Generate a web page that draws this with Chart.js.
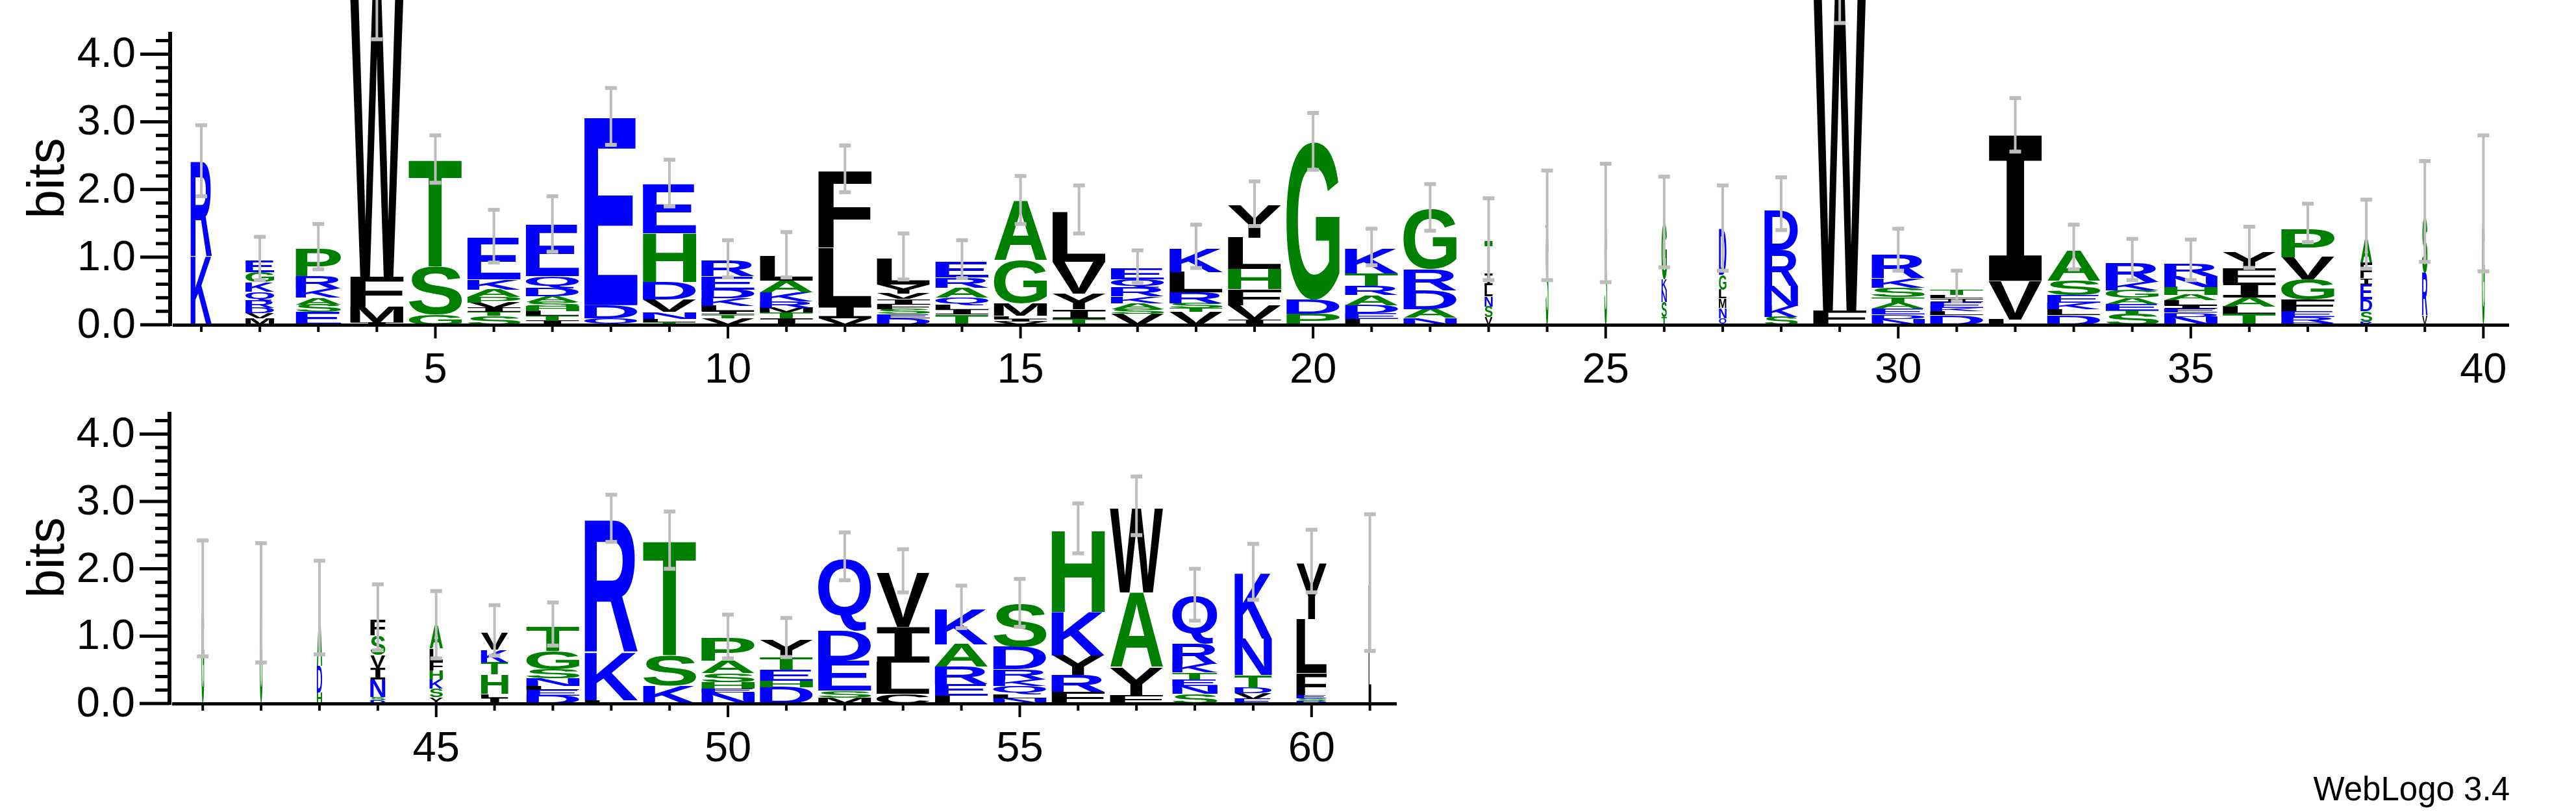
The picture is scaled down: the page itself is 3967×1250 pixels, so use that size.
<!DOCTYPE html>
<html><head><meta charset="utf-8">
<script src="https://cdn.jsdelivr.net/npm/chart.js@4.4.1/dist/chart.umd.min.js"></script>
<style>
html,body{margin:0;padding:0;background:#fff;width:3967px;height:1250px;overflow:hidden;}
canvas{position:absolute;left:0;}
#credit{position:absolute;right:102px;top:1185px;font:51px "Liberation Sans",Arial,sans-serif;color:#000;}
</style></head><body>
<canvas id="c1" width="3967" height="620" style="top:0"></canvas>
<canvas id="c2" width="3967" height="670" style="top:580px"></canvas>
<div id="credit">WebLogo 3.4</div>
<script>
// ---- Panel 1 (positions 1-40) ----
const positions1 = Array.from({length:40},(_,i)=>i+1);
const seqs1 = ["KR","MVDRQKGE","ESAKRP","IMFW","GST","STIVPAKE","ITLHSADQE","QDE","TLNVDHE","VTILKDER",
 "ITMRKAL","VILF","DESFIVYL","TILQARE","VILMGA","TIYVL","VSAKRQE","VTSRLK","IVFHLY","PDG",
 "LEDARTK","NADRG","VSNLIT","SK","S","TSNKG","QNMLGD","SKNRD","FW","NDEATSKR",
 "DLKEILT","LVI","DLKESA","STEAGKR","NDEILAHNR","TLAIFY","DREFGVP","RSDEIFA","VRS","G"];
const heights1 = [
 [1.01,1.40],[.095,.075,.08,.11,.13,.14,.15,.17],[.19,.11,.10,.14,.18,.41],[.04,.23,.44,4.14],[.15,.71,1.57],
 [.13,.06,.06,.08,.08,.11,.15,.62],[.06,.07,.07,.07,.07,.08,.12,.18,.76],[.10,.19,2.77],[.04,.05,.10,.18,.26,.72,.72],[.10,.05,.05,.08,.11,.13,.20,.24],
 [.10,.08,.07,.10,.13,.17,.37],[.10,.19,.85,1.14],[.10,.06,.07,.07,.08,.08,.14,.38],[.15,.07,.07,.11,.15,.15,.23],[.05,.04,.04,.19,.63,.88],
 [.09,.14,.23,.47,.74],[.16,.07,.09,.10,.13,.12,.16],[.19,.06,.07,.16,.30,.35],[.08,.21,.24,.30,.46,.48],[.16,.21,2.33],
 [.09,.08,.12,.15,.14,.18,.37],[.10,.13,.28,.31,.88],[.11,.16,.15,.17,.17,.48],[1.43,.04],[1.49],
 [.11,.23,.17,.16,.83],[.10,.15,.14,.13,.22,.67],[.12,.16,.29,.53,.59],[.21,4.89],[.09,.06,.09,.08,.09,.14,.14,.34],
 [.14,.06,.05,.09,.05,.05,.07],[.08,.57,2.15],[.14,.09,.10,.11,.21,.44],[.16,.05,.10,.09,.11,.12,.28],[.12,.06,.06,.05,.07,.08,.12,.16,.19],
 [.16,.11,.13,.22,.21,.25],[.03,.09,.08,.17,.30,.33,.42],[.05,.15,.17,.23,.09,.23,.33],[.14,.63,.81],[1.68]];
const widths1 = [.4,.54,.85,1,1,1,1,1,1,1, 1,1,1,1,1,1,1,1,1,1, 1,1,.15,.05,.05,.1,.14,.63,1,1, 1,1,1,1,1,1,1,.22,.1,.05];
const errLo1 = [1.9,.66,.82,4.22,2.1,.92,1.08,2.66,1.75,.7, .7,1.96,.67,.69,1.49,1.35,.62,.84,1.46,2.29,
 .88,1.39,.66,.66,.63,.85,.8,1.4,4.46,.8, .35,2.56,.82,.66,.66,.84,1.22,.83,.93,.79];
const errHi1 = [2.95,1.3,1.49,5.5,2.8,1.7,1.9,3.5,2.44,1.25, 1.37,2.65,1.35,1.25,2.2,2.06,1.1,1.48,2.12,3.13,
 1.42,2.08,1.87,2.28,2.38,2.19,2.06,2.18,5.7,1.42, .8,3.35,1.48,1.27,1.26,1.45,1.79,1.85,2.42,2.8];

// ---- Panel 2 (positions 41-61) ----
const positions2 = Array.from({length:21},(_,i)=>i+41);
const seqs2 = ["G","G","HDA","DSNIVSF","YSKHFLA","ILHTKV","DELNSGT","LKR","KST","NEHSAP",
 "DHETY","MSEDQ","CLIV","LERAK","NLQKRDS","FRYKH","FYAW","SNETKRQ","EVDTNK","DSEFLY","L"];
const heights2 = [[1.53],[1.55],[.16,.39,.85],[.05,.05,.26,.17,.19,.29,.23],[.09,.13,.14,.13,.14,.19,.33],
 [.09,.05,.29,.18,.19,.25],[.12,.08,.06,.11,.14,.27,.36],[.05,.71,1.96],[.26,.45,1.69],[.16,.06,.10,.13,.19,.33],
 [.24,.10,.16,.18,.26],[.09,.10,.45,.44,1.06],[.14,.47,.53,.80],[.12,.17,.26,.33,.52],[.08,.06,.12,.10,.15,.33,.64],
 [.17,.25,.29,.65,1.20],[.12,.42,1.11,1.25],[.14,.12,.10,.10,.13,.30,.70],[.07,.08,.08,.19,.54,.97],[.04,.04,.05,.32,.80,.83],[1.76]];
const widths2 = [.05,.05,.1,.28,.25,.51,1,1,1,1, 1,1,1,1,1,1,1,.85,.7,.57,.05];
const errLo2 = [.7,.61,.73,.79,.67,.71,.86,2.4,2.0,.67, .69,1.83,1.65,1.12,1.14,2.23,2.5,1.23,1.54,1.65,.78];
const errHi2 = [2.42,2.38,2.12,1.77,1.67,1.46,1.5,3.1,2.85,1.32, 1.27,2.54,2.29,1.75,1.85,2.97,3.37,2.0,2.37,2.58,2.81];

const yTickLabels = ["0.0","1.0","2.0","3.0","4.0"];
const xTickLabels1 = [5,10,15,20,25,30,35,40];
const xTickLabels2 = [45,50,55,60];

const COLORS = {};
"RKDENQ".split('').forEach(c=>COLORS[c]='#0000ff');
"AGSTPH".split('').forEach(c=>COLORS[c]='#008000');
function colorOf(c){return COLORS[c]||'#000000';}

const glyphCache = {};
const GF = 'bold 200px "Liberation Sans", Arial, sans-serif';
const GF_I = 'bold 200px "DejaVu Sans Mono", monospace';
function fontFor(ch){return ch==='I'?GF_I:GF;}
function glyph(ctx,ch){
  if(glyphCache[ch]) return glyphCache[ch];
  ctx.save(); ctx.font = fontFor(ch); const m = ctx.measureText(ch); ctx.restore();
  return glyphCache[ch] = {l:m.actualBoundingBoxLeft, r:m.actualBoundingBoxRight, a:m.actualBoundingBoxAscent, d:m.actualBoundingBoxDescent};
}
function drawLetter(ctx,ch,x0,yTop,w,h){
  if(h<0.5||w<0.5) return;
  const g = glyph(ctx,ch); const gw = g.l+g.r, gh = g.a+g.d;
  ctx.save(); ctx.translate(x0,yTop); ctx.scale(w/gw,h/gh);
  ctx.font = fontFor(ch); ctx.fillStyle = colorOf(ch); ctx.textBaseline='alphabetic'; ctx.textAlign='left';
  ctx.fillText(ch,g.l,g.a); ctx.restore();
}

function makeLogo(id, pos, seqs, hts, wts, lo, hi, xmin, xmax, pad, xLabels){
  const logoPlugin = {
    id:'logo'+id,
    afterDatasetsDraw(chart){
      const ctx = chart.ctx, xs = chart.scales.x, ys = chart.scales.y, ca = chart.chartArea;
      const step = xs.getPixelForValue(2)-xs.getPixelForValue(1);
      pos.forEach((p,i)=>{
        const xc = xs.getPixelForValue(p); const w = step*0.91*wts[i];
        let cum = 0;
        seqs[i].split('').forEach((ch,j)=>{
          const yb = ys.getPixelForValue(cum); cum += hts[i][j];
          const yt = ys.getPixelForValue(cum);
          drawLetter(ctx,ch,xc-w/2,yt,w,yb-yt);
        });
      });
      ctx.save(); ctx.fillStyle='#bdbdbd'; ctx.strokeStyle='#bdbdbd'; ctx.lineWidth=4;
      pos.forEach((p,i)=>{
        const xc = xs.getPixelForValue(p), y1 = ys.getPixelForValue(lo[i]), y2 = ys.getPixelForValue(hi[i]);
        ctx.beginPath(); ctx.moveTo(xc,y1); ctx.lineTo(xc,y2); ctx.stroke();
        ctx.fillRect(xc-9,y1-3,18,6); ctx.fillRect(xc-9,y2-3,18,6);
      });
      ctx.restore();
      ctx.save(); ctx.fillStyle='#000'; ctx.strokeStyle='#000';
      const y0 = ys.getPixelForValue(0);
      ctx.fillRect(ca.left-3, ca.top, 6, y0-ca.top+2);
      ctx.fillRect(ca.left+4, y0-2, ca.right-ca.left-4, 5);
      for(let k=0;k<=21;k++){
        const v=k*0.2, y=ys.getPixelForValue(v); if(y<ca.top) break;
        const major = k%5===0; const len = major?46:22;
        ctx.fillRect(ca.left-len, y-2.5, len, 5);
      }
      ctx.font='65px "Liberation Sans", Arial, sans-serif'; ctx.textAlign='right'; ctx.textBaseline='middle';
      yTickLabels.forEach((t,k)=>ctx.fillText(t, ca.left-53, ys.getPixelForValue(k)+2));
      pos.forEach(p=>{
        const x = xs.getPixelForValue(p); const major = p%5===0;
        ctx.fillRect(x-2, y0+2, 4, major?19:9);
      });
      ctx.textAlign='center'; ctx.textBaseline='alphabetic';
      xLabels.forEach(v=>ctx.fillText(String(v), xs.getPixelForValue(v), y0+89));
      ctx.save(); ctx.translate(98, (ca.top+y0)/2); ctx.rotate(-Math.PI/2);
      ctx.font='80px "Liberation Sans", Arial, sans-serif'; ctx.textAlign='center'; ctx.textBaseline='alphabetic';
      ctx.fillText('bits',0,0); ctx.restore();
      ctx.restore();
    }
  };
  return new Chart(document.getElementById(id), {
    type:'bar',
    data:{datasets:[{data: pos.map((p,i)=>({x:p, y:hts[i].reduce((a,b)=>a+b,0)})), backgroundColor:'rgba(0,0,0,0)', borderWidth:0}]},
    options:{
      responsive:false, animation:false, devicePixelRatio:1,
      layout:{padding:pad},
      plugins:{legend:{display:false}, tooltip:{enabled:false}},
      scales:{
        x:{type:'linear', min:xmin, max:xmax, offset:false, display:false},
        y:{min:0, max:4.33, display:false}
      }
    },
    plugins:[logoPlugin]
  });
}
makeLogo('c1', positions1, seqs1, heights1, widths1, errLo1, errHi1, 0.467, 40.44, {left:262,right:103,top:49,bottom:120}, xTickLabels1);
makeLogo('c2', positions2, seqs2, heights2, widths2, errLo2, errHi2, 40.43, 61.46, {left:261,right:1816,top:54,bottom:167}, xTickLabels2);
</script>
</body></html>
